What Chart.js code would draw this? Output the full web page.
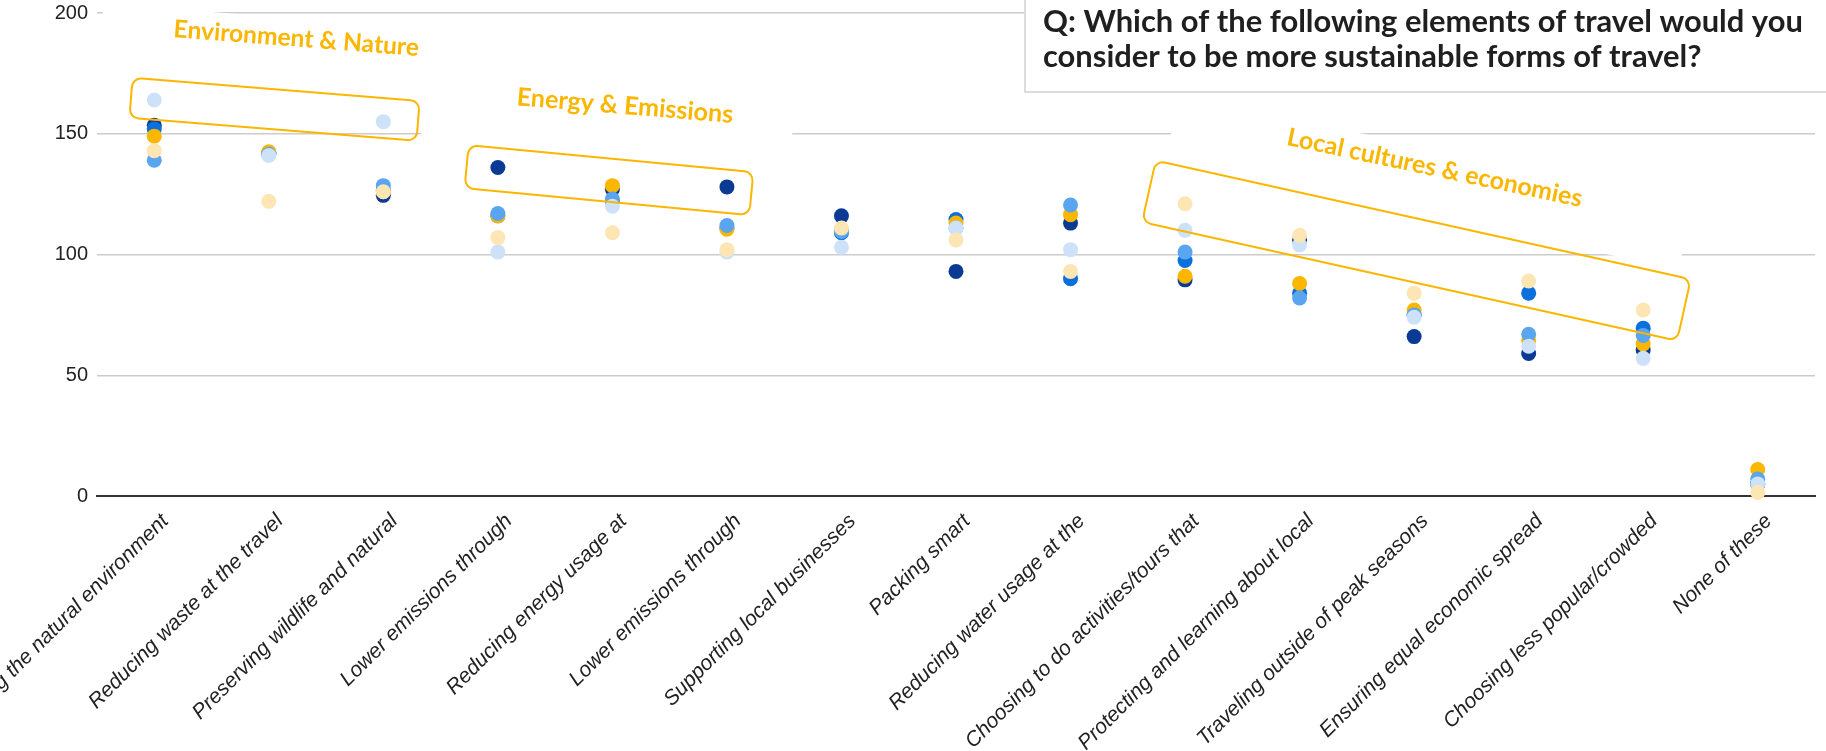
<!DOCTYPE html>
<html>
<head>
<meta charset="utf-8">
<script src="https://cdn.jsdelivr.net/npm/chart.js@4.4.1/dist/chart.umd.min.js"></script>
<style>
  html, body { margin: 0; padding: 0; background: #ffffff; }
  canvas { display: block; }
</style>
</head>
<body>
<canvas id="chart" width="1826" height="751"></canvas>
<script>
// Answer options shown along the x axis
const categories = [
  'Protecting the natural environment',
  'Reducing waste at the travel',
  'Preserving wildlife and natural',
  'Lower emissions through',
  'Reducing energy usage at',
  'Lower emissions through',
  'Supporting local businesses',
  'Packing smart',
  'Reducing water usage at the',
  'Choosing to do activities/tours that',
  'Protecting and learning about local',
  'Traveling outside of peak seasons',
  'Ensuring equal economic spread',
  'Choosing less popular/crowded',
  'None of these'
];

// Response counts per respondent group
const groupCream     = [143, 122, 126, 107, 109, 102, 111, 106,  93, 121, 108, 84, 89, 77, 1.5];
const groupPaleBlue  = [164, 141, 155, 101, 120, 101, 103, 111, 102, 110, 104, 74, 62, 57, 5];
const groupSkyBlue   = [139, 141.5, 128.5, 117, 123, 112, 109.5, 111, 120.5, 101, 82, 75, 67, 66.5, 7];
const groupGold      = [149, 142.5, 126, 116, 128.5, 110.5, 110, 113, 116.5, 91, 88, 77, 64.5, 63, 11];
const groupBlue      = [152, 142, 126.5, 116, 122, 111, 109, 114.5, 90, 97.5, 84, 75, 84, 69.5, 5];
const groupNavy      = [153.5, 142, 124.5, 136, 127, 128, 116, 93, 113, 89.5, 106, 66, 59, 60.5, 5];

const yTicks = [0, 50, 100, 150, 200];

const questionLines = [
  'Q: Which of the following elements of travel would you',
  'consider to be more sustainable forms of travel?'
];

// Theme groupings drawn over the plot (position in category index / value units)
const GOLD = '#fbb600';
const themeLabels = [
  { text: 'Environment & Nature',       cat: 1.24,  val: 189.4, angle: 4.4,  width: 246 },
  { text: 'Energy & Emissions',         cat: 4.11,  val: 161.5, angle: 4.7,  width: 217 },
  { text: 'Local cultures & economies', cat: 11.18, val: 135.8, angle: 11.9, width: 301 }
];
const themeMasks = [
  { cat: 1.24,  val: 189.4, angle: 4.4, w: 390, h: 40 },
  { cat: 3.965, val: 159.0, angle: 4.7, w: 370, h: 76 },
  { cat: 11.13, val: 130.0, angle: 12,  w: 525, h: 67 }
];
const themeFrames = [
  { cat: 1.05,  val: 160.1, angle: 4.6,  w: 288, h: 40 },
  { cat: 3.97,  val: 130.8, angle: 5.4,  w: 286, h: 43 },
  { cat: 11.02, val: 101.6, angle: 12.5, w: 548, h: 63 }
];

function fittedFont(ctx, text, weight, family, targetWidth) {
  ctx.font = `${weight} 100px ${family}`;
  const w = ctx.measureText(text).width;
  return 100 * targetWidth / w;
}

function withRotation(ctx, chart, item, fn) {
  const x = chart.scales.x.getPixelForValue(item.cat);
  const y = chart.scales.y.getPixelForValue(item.val);
  ctx.save();
  ctx.translate(x, y);
  ctx.rotate(item.angle * Math.PI / 180);
  fn();
  ctx.restore();
}

const themePlugin = {
  id: 'themes',
  beforeDatasetsDraw(chart) {
    const ctx = chart.ctx;
    themeMasks.forEach(m => withRotation(ctx, chart, m, () => {
      ctx.fillStyle = '#ffffff';
      ctx.fillRect(-m.w / 2, -m.h / 2, m.w, m.h);
    }));
  },
  afterDatasetsDraw(chart) {
    const ctx = chart.ctx;
    themeFrames.forEach(f => withRotation(ctx, chart, f, () => {
      ctx.beginPath();
      ctx.roundRect(-f.w / 2, -f.h / 2, f.w, f.h, 9);
      ctx.lineWidth = 2;
      ctx.strokeStyle = GOLD;
      ctx.stroke();
    }));
    themeLabels.forEach(t => withRotation(ctx, chart, t, () => {
      const size = fittedFont(ctx, t.text, 700, 'Lato, "Noto Sans", sans-serif', t.width);
      ctx.font = `700 ${size}px Lato, "Noto Sans", sans-serif`;
      ctx.fillStyle = GOLD;
      ctx.textAlign = 'center';
      ctx.textBaseline = 'middle';
      ctx.fillText(t.text, 0, 0);
    }));
  },
  afterDraw(chart) {
    const ctx = chart.ctx;
    ctx.save();
    ctx.fillStyle = '#ffffff';
    ctx.fillRect(1025, -2, 810, 94);
    ctx.lineWidth = 2;
    ctx.strokeStyle = '#dcdcdc';
    ctx.strokeRect(1025, -2, 810, 94);
    const size = fittedFont(ctx, questionLines[0], 700, 'Lato, "Noto Sans", sans-serif', 760);
    ctx.font = `700 ${size}px Lato, "Noto Sans", sans-serif`;
    ctx.fillStyle = '#1f1f1f';
    ctx.textAlign = 'left';
    ctx.textBaseline = 'alphabetic';
    ctx.fillText(questionLines[0], 1043, 32);
    ctx.fillText(questionLines[1], 1043, 67);
    ctx.restore();
  }
};

function series(label, data, color) {
  return {
    label, data,
    showLine: false,
    pointRadius: 7.5,
    pointHoverRadius: 7.5,
    pointBorderWidth: 0,
    pointBackgroundColor: color,
    pointBorderColor: color,
    backgroundColor: color,
    borderColor: color,
    clip: false
  };
}

Chart.defaults.font.family = '"Liberation Sans", Arial, sans-serif';

new Chart(document.getElementById('chart'), {
  type: 'line',
  data: {
    labels: categories,
    datasets: [
      series('Group 6', groupCream,    '#fde6b3'),
      series('Group 5', groupPaleBlue, '#cde2f9'),
      series('Group 4', groupSkyBlue,  '#5aa5ef'),
      series('Group 3', groupGold,     '#fbb600'),
      series('Group 2', groupBlue,     '#0b6fdd'),
      series('Group 1', groupNavy,     '#0a3a94')
    ]
  },
  options: {
    responsive: false,
    animation: false,
    devicePixelRatio: 1,
    layout: { padding: { left: 0, right: 11, top: 13, bottom: 0 } },
    plugins: {
      legend: { display: false },
      tooltip: { enabled: false }
    },
    scales: {
      x: {
        offset: true,
        grid: { display: false },
        border: { display: true, color: '#333333', width: 2 },
        ticks: {
          autoSkip: false,
          minRotation: 45,
          maxRotation: 45,
          labelOffset: 11,
          padding: 5,
          color: '#222222',
          font: { size: 21, style: 'italic' }
        },
        afterFit(scale) {
          scale.height = 255;
          scale.paddingLeft = 0;
          scale.paddingRight = 0;
        }
      },
      y: {
        min: yTicks[0],
        max: yTicks[yTicks.length - 1],
        border: { display: false },
        grid: {
          drawTicks: false,
          color: ctx => ctx.tick && ctx.tick.value === 0 ? '#333333' : '#cccccc',
          lineWidth: ctx => ctx.tick && ctx.tick.value === 0 ? 2 : 1.5
        },
        afterBuildTicks(scale) {
          scale.ticks = yTicks.map(v => ({ value: v }));
        },
        ticks: {
          padding: 9,
          color: '#222222',
          font: { size: 20 }
        },
        afterFit(scale) {
          scale.width = 97;
          scale.paddingTop = 0;
          scale.paddingBottom = 0;
        }
      }
    }
  },
  plugins: [themePlugin]
});
</script>
</body>
</html>
